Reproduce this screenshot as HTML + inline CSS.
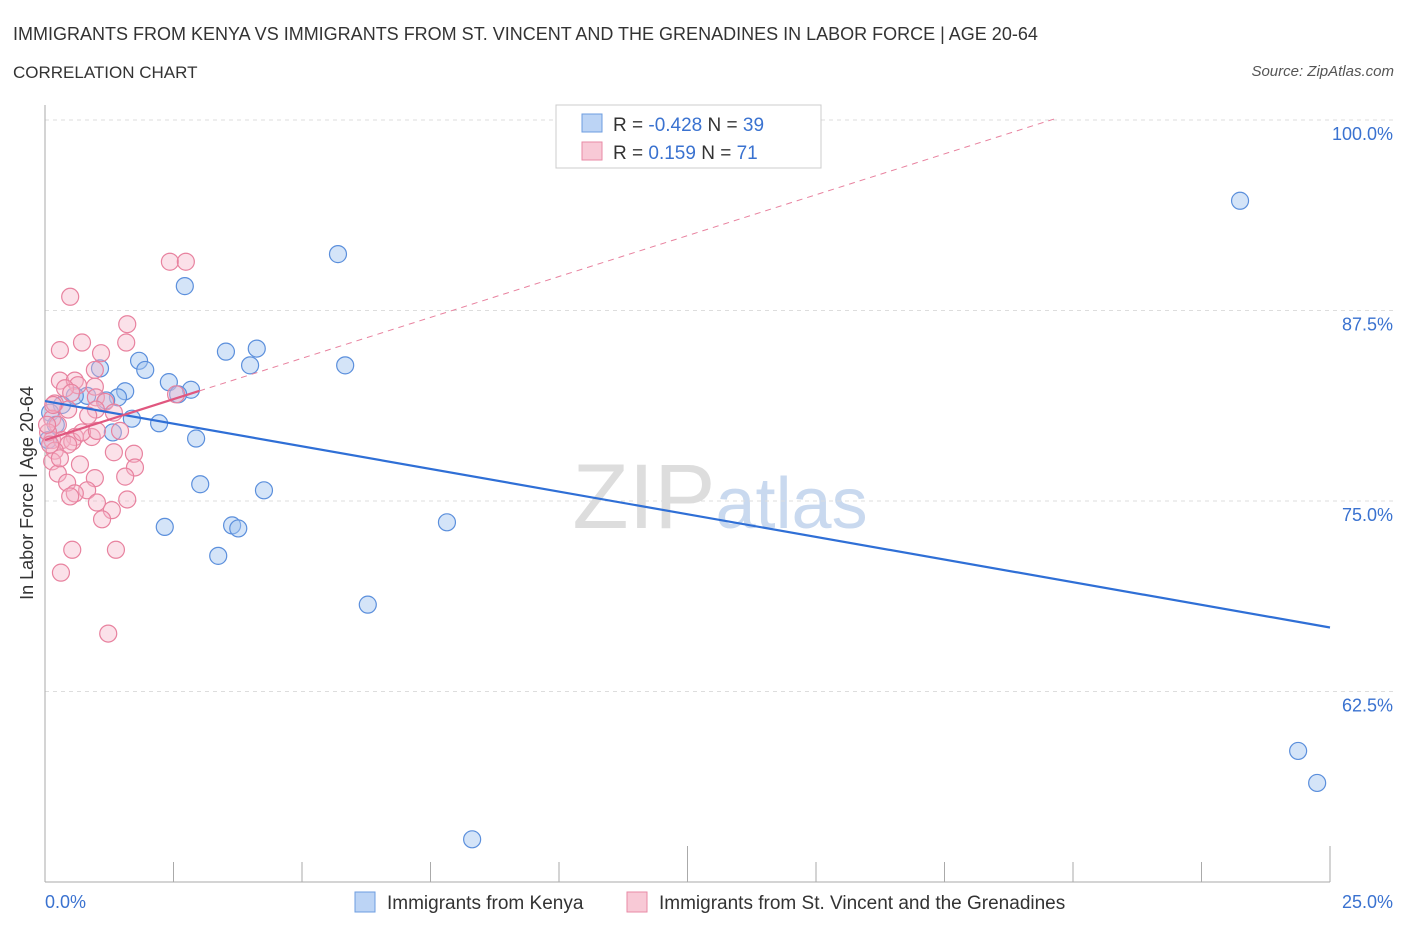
<!DOCTYPE html>
<html><head><meta charset="utf-8"><style>
body{margin:0;background:#fff;font-family:"Liberation Sans",sans-serif}
svg text{font-family:"Liberation Sans",sans-serif}
</style></head><body>
<svg width="1406" height="930">
<text x="13" y="40" font-size="18" fill="#333">IMMIGRANTS FROM KENYA VS IMMIGRANTS FROM ST. VINCENT AND THE GRENADINES IN LABOR FORCE | AGE 20-64</text>
<text x="13" y="78" font-size="17" fill="#333">CORRELATION CHART</text>
<text x="1394" y="76" font-size="15" fill="#555" font-style="italic" text-anchor="end">Source: ZipAtlas.com</text>
<text x="720" y="528" font-size="92" fill="#ddd" text-anchor="middle" font-family="Liberation Serif">ZIP<tspan fill="#c9d9ef" font-family="Liberation Sans" font-size="72">atlas</tspan></text>
<g id="grid"></g><g id="axes"></g><g id="marks"></g>
<text transform="translate(33,493) rotate(-90)" font-size="18" fill="#333" text-anchor="middle">In Labor Force | Age 20-64</text>
<g>
<rect x="556" y="105" width="265" height="63" fill="#fff" stroke="#ccc"/>
<rect x="582" y="114" width="20" height="18" fill="#bcd4f5" stroke="#6d9de0"/>
<text x="613" y="131" font-size="19" fill="#333">R = <tspan fill="#3a72d0">-0.428</tspan>   N = <tspan fill="#3a72d0">39</tspan></text>
<rect x="582" y="142" width="20" height="18" fill="#f8c9d6" stroke="#e88aa6"/>
<text x="613" y="159" font-size="19" fill="#333">R =   <tspan fill="#3a72d0">0.159</tspan>   N =  <tspan fill="#3a72d0">71</tspan></text>
</g>
<rect x="355" y="892" width="20" height="20" fill="#bcd4f5" stroke="#6d9de0"/>
<text x="387" y="909" font-size="19" fill="#333">Immigrants from Kenya</text>
<rect x="627" y="892" width="20" height="20" fill="#f8c9d6" stroke="#e88aa6"/>
<text x="659" y="909" font-size="19" fill="#333">Immigrants from St. Vincent and the Grenadines</text>
</svg>
<script>
const yTicks=[100,87.5,75,62.5];
const yTickLabels=["100.0%","87.5%","75.0%","62.5%"];
const xTickVals=[0,2.5,5,7.5,10,12.5,15,17.5,20,22.5,25];
const kenyaX=[23.25,5.70,2.72,4.12,3.52,1.83,3.99,5.84,1.95,1.07,2.41,2.84,1.56,2.59,1.42,0.82,1.19,0.58,0.33,0.10,1.69,2.22,0.21,1.32,2.94,3.02,4.26,2.33,3.64,3.76,7.82,3.37,6.28,24.38,24.75,8.31,0.06];
const kenyaY=[94.7,91.2,89.1,85.0,84.8,84.2,83.9,83.9,83.6,83.7,82.8,82.3,82.2,82.0,81.8,81.9,81.6,81.9,81.3,80.8,80.4,80.1,80.0,79.5,79.1,76.1,75.7,73.3,73.4,73.2,73.6,71.4,68.2,58.6,56.5,52.8,79.0];
const vincX=[2.43,2.74,0.49,1.60,1.58,0.72,0.29,1.09,0.97,0.29,0.58,0.64,0.97,0.39,2.55,0.51,0.99,1.17,0.19,0.45,1.34,0.99,0.14,0.25,1.46,0.91,0.58,0.14,0.33,0.53,0.45,0.19,1.34,1.73,0.68,0.14,1.75,0.25,1.56,0.97,0.43,0.82,0.58,0.49,1.60,1.01,1.30,1.11,0.53,1.38,0.31,1.23,0.06,0.10,0.04,0.16,0.29,0.84,0.72,1.01];
const vincY=[90.7,90.7,88.4,86.6,85.4,85.4,84.9,84.7,83.6,82.9,82.9,82.6,82.5,82.4,82.0,82.1,81.8,81.5,81.4,81.0,80.8,81.0,80.4,80.0,79.6,79.2,79.2,79.0,79.0,78.9,78.7,78.3,78.2,78.1,77.4,77.6,77.2,76.8,76.6,76.5,76.2,75.7,75.5,75.3,75.1,74.9,74.4,73.8,71.8,71.8,70.3,66.3,79.5,78.7,80.0,81.3,77.8,80.6,79.5,79.6];
const kenyaTrend=[81.56,66.7];
const vincTrend=[79.0,1.073];
const NS="http://www.w3.org/2000/svg";
const sx=v=>45+v/25*1285, sy=v=>120+(100-v)/50*762;
function mk(t,a,p){const e=document.createElementNS(NS,t);for(const k in a)e.setAttribute(k,a[k]);p.appendChild(e);return e;}
const grid=document.getElementById('grid'),axes=document.getElementById('axes'),marks=document.getElementById('marks');
yTicks.forEach((v,i)=>{
 const l=mk('line',{x1:45,x2:1394,y1:sy(v),y2:sy(v),stroke:'#ddd','stroke-dasharray':'4,4'},grid);
 
 
 const t=mk('text',{x:1393,y:sy(v)+20,'font-size':18,fill:'#3a72d0','text-anchor':'end'},axes);
 t.textContent=yTickLabels[i];
 
 
});
const ax=mk('line',{x1:45,x2:45,y1:105,y2:882,stroke:'#aaa'},axes);


const bx=mk('line',{x1:45,x2:1330,y1:882,y2:882,stroke:'#aaa'},axes);


xTickVals.forEach(v=>{
 const t=mk('line',{x1:sx(v),x2:sx(v),y1:v%12.5===0&&v>0?846:862,y2:882,stroke:'#aaa'},axes);
 
 
});
const x0=mk('text',{x:45,y:908,'font-size':18,fill:'#3a72d0'},axes);x0.textContent='0.0%';


const x1=mk('text',{x:1393,y:908,'font-size':18,fill:'#3a72d0','text-anchor':'end'},axes);x1.textContent='25.0%';


kenyaX.forEach((x,i)=>{
 const c=mk('circle',{cx:sx(x),cy:sy(kenyaY[i]),r:8.5,fill:'rgba(160,195,240,0.45)',stroke:'#5b8fdc','stroke-width':1.2},marks);
 
 
});
vincX.forEach((x,i)=>{
 const c=mk('circle',{cx:sx(x),cy:sy(vincY[i]),r:8.5,fill:'rgba(245,180,200,0.4)',stroke:'#e8829f','stroke-width':1.2},marks);
 
 
});
const kl=mk('line',{x1:sx(0),y1:sy(kenyaTrend[0]),x2:sx(25),y2:sy(kenyaTrend[1]),stroke:'#2f6fd6','stroke-width':2.2},marks);


const vd=mk('line',{x1:sx(3),y1:sy(vincTrend[0]+3*vincTrend[1]),x2:sx(19.7),y2:sy(vincTrend[0]+19.7*vincTrend[1]),stroke:'#e8829f','stroke-width':1,'stroke-dasharray':'6,5'},marks);


const vl=mk('line',{x1:sx(0),y1:sy(vincTrend[0]),x2:sx(3),y2:sy(vincTrend[0]+3*vincTrend[1]),stroke:'#e0577f','stroke-width':2.2},marks);


</script>
</body></html>
